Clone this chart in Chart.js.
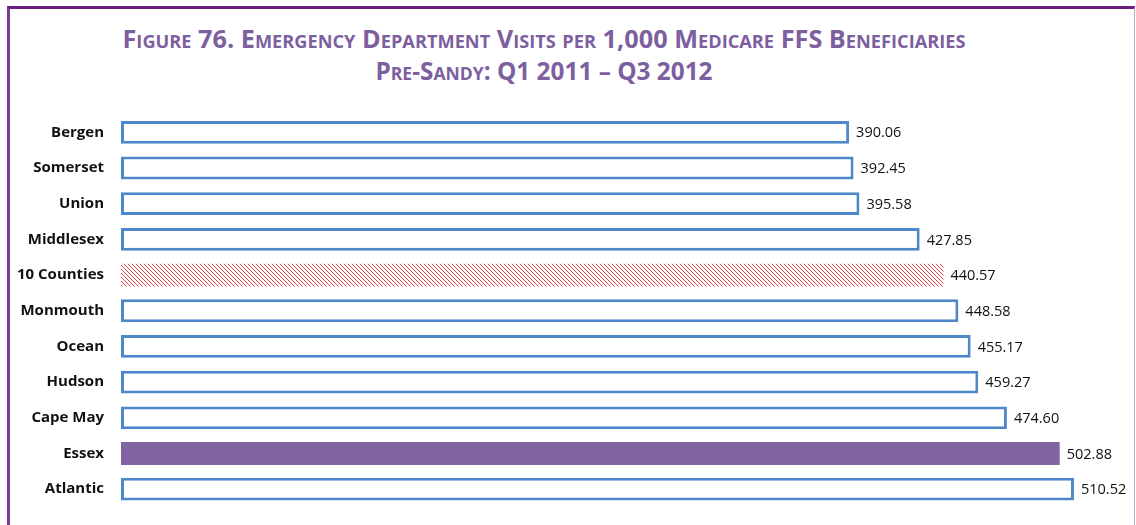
<!DOCTYPE html>
<html>
<head>
<meta charset="utf-8">
<title>ED Visits per 1,000 Medicare FFS Beneficiaries</title>
<script src="https://cdn.jsdelivr.net/npm/chart.js@4"></script>
<style>
  body { margin: 0; background: #fff; }
  #wrap { position: relative; width: 1136px; height: 525px; overflow: hidden; }
  #frame {
    position: absolute; left: 7px; top: 6px; right: 1px; bottom: -10px;
    border-top: 3px solid #6b1f80;
    border-left: 3px solid #7b3c97;
    border-right: 1px solid #c3a4d3;
  }
  .title {
    position: absolute; left: 543.5px; white-space: nowrap;
    font-family: "Open Sans", sans-serif; font-weight: bold; font-size: 25px;
    line-height: 24px; font-variant: small-caps; color: #7d5fa0;
    transform-origin: 0 0;
  }
  #myChart { position: absolute; left: 0; top: 0; }
</style>
</head>
<body>
<div id="wrap">
  <div id="frame"></div>
  <div class="title" id="t1" data-w="843" style="top:26px">Figure 76. Emergency Department Visits per 1,000 Medicare FFS Beneficiaries</div>
  <div class="title" id="t2" data-w="337" style="top:58px">Pre-Sandy: Q1 2011 – Q3 2012</div>
  <canvas id="myChart" width="1136" height="525"></canvas>
</div>
<script>
// counties, sorted low to high
var counties = ['Bergen', 'Somerset', 'Union', 'Middlesex', '10 Counties', 'Monmouth',
                'Ocean', 'Hudson', 'Cape May', 'Essex', 'Atlantic'];
var visits = [390.06, 392.45, 395.58, 427.85, 440.57, 448.58, 455.17, 459.27, 474.60, 502.88, 510.52];

var regionLabel = '10 Counties';
var focusCounty = 'Essex';

// squeeze the title lines to their width
document.querySelectorAll('.title').forEach(function (el) {
    var w = el.getBoundingClientRect().width;
    var s = parseFloat(el.dataset.w) / w;
    el.style.transform = 'scaleX(' + s + ') translateX(-50%)';
});

// red diagonal hatch for the 10 county average
function makeHatch() {
    var c = document.createElement('canvas');
    c.width = 4; c.height = 4;
    var g = c.getContext('2d');
    g.strokeStyle = '#e5454a';
    g.lineWidth = 1;
    g.beginPath();
    g.moveTo(-1, -1); g.lineTo(5, 5);
    g.moveTo(-1, 3); g.lineTo(1, 5);
    g.moveTo(3, -1); g.lineTo(5, 1);
    g.stroke();
    return g.createPattern(c, 'repeat');
}
var hatch = makeHatch();

var fills = [], borders = [], widths = [];
for (var i = 0; i < counties.length; i++) {
    if (counties[i] === regionLabel) {
        fills.push(hatch); borders.push('rgba(0,0,0,0)'); widths.push(0);
    } else if (counties[i] === focusCounty) {
        fills.push('#8064a2'); borders.push('#8064a2'); widths.push(0);
    } else {
        fills.push('#ffffff'); borders.push('#4f88c8'); widths.push(3);
    }
}

// value printed just past the end of each bar
var valueLabels = {
    id: 'valueLabels',
    afterDatasetsDraw: function (chart) {
        var ctx = chart.ctx;
        var meta = chart.getDatasetMeta(0);
        ctx.save();
        ctx.font = '14.5px "Open Sans", sans-serif';
        ctx.fillStyle = '#111';
        ctx.textAlign = 'left';
        ctx.textBaseline = 'middle';
        meta.data.forEach(function (bar, i) {
            ctx.fillText(visits[i].toFixed(2), bar.x + 7, bar.y + 1);
        });
        ctx.restore();
    }
};

const ctx = document.getElementById('myChart');
const myChart = new Chart(ctx, {
    type: 'bar',
    data: {
        labels: counties,
        datasets: [{
            data: visits,
            backgroundColor: fills,
            borderColor: borders,
            borderWidth: widths,
            borderSkipped: false,
            barPercentage: 0.64,
            categoryPercentage: 1
        }]
    },
    options: {
        indexAxis: 'y',
        responsive: false,
        animation: false,
        layout: { padding: { top: 114.5, bottom: 18, left: 0, right: 7 } },
        plugins: {
            legend: { display: false },
            tooltip: { enabled: false }
        },
        scales: {
            x: {
                display: false,
                min: 0,
                max: 540
            },
            y: {
                // tick marks hidden, their length just spaces the labels off the bars
                grid: { display: false, drawTicks: true, tickLength: 14 },
                border: { display: false },
                afterFit: function (scale) { scale.width = 121; },
                ticks: {
                    padding: 3,
                    color: '#111',
                    font: { family: '"Open Sans", sans-serif', size: 15, weight: 'bold' }
                }
            }
        }
    },
    plugins: [valueLabels]
});
</script>
</body>
</html>
